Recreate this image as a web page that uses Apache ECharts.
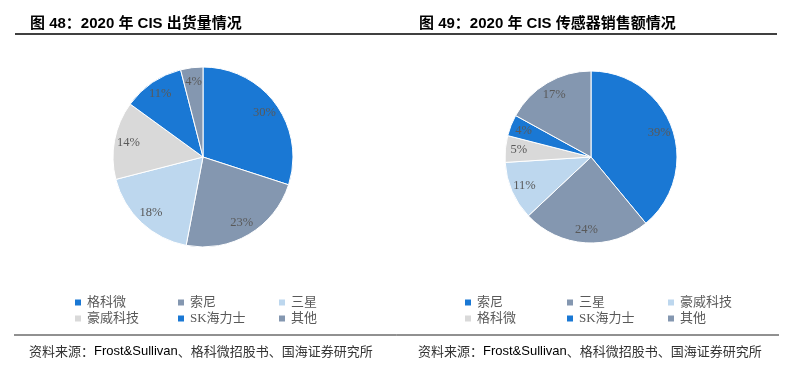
<!DOCTYPE html>
<html>
<head>
<meta charset="utf-8">
<script src="https://cdn.jsdelivr.net/npm/echarts@6/dist/echarts.min.js"></script>
<style>
  html, body { margin: 0; padding: 0; background: #fff; }
  #main { width: 786px; height: 377px; }
</style>
</head>
<body>
<div id="main"></div>
<script>
// 图48 出货量
var shipNames = ['格科微', '索尼', '三星', '豪威科技', 'SK海力士', '其他'];
var shipValues = [30, 23, 18, 14, 11, 4];
// 图49 销售额
var salesNames = ['索尼', '三星', '豪威科技', '格科微', 'SK海力士', '其他'];
var salesValues = [39, 24, 11, 5, 4, 17];

var sliceColors = ['#1a78d4', '#8497b0', '#bdd7ee', '#d9d9d9', '#1a78d4', '#8497b0'];
var sansFont = '"Liberation Sans", "Noto Sans CJK SC", sans-serif';
var serifFont = '"Liberation Serif", "DejaVu Serif", "Noto Sans CJK SC", serif';

function pieData(names, values) {
    var arr = [];
    for (var i = 0; i < names.length; i++) {
        arr.push({ name: names[i], value: values[i], itemStyle: { color: sliceColors[i] } });
    }
    return arr;
}

function pieSeries(names, values, center, r) {
    return [
        {
            type: 'pie',
            center: center,
            radius: [0, r],
            startAngle: 90,
            silent: true,
            label: { show: false },
            labelLine: { show: false },
            itemStyle: { borderColor: '#fff', borderWidth: 1 },
            emphasis: { disabled: true },
            data: pieData(names, values)
        },
        {
            // label ring only
            type: 'pie',
            center: center,
            radius: [Math.round(r * 0.62), r],
            startAngle: 90,
            silent: true,
            z: 3,
            itemStyle: { color: 'rgba(0,0,0,0)', borderWidth: 0 },
            label: {
                show: true,
                position: 'inside',
                formatter: '{c}%',
                color: '#595959',
                fontSize: 12.5,
                fontFamily: serifFont
            },
            labelLine: { show: false },
            emphasis: { disabled: true },
            data: names.map(function (n, i) { return { name: n, value: values[i] }; })
        }
    ];
}

// legend columns: two rows each
function legendColumns(names, xs) {
    var out = [];
    for (var c = 0; c < 3; c++) {
        out.push({
            orient: 'vertical',
            left: xs[c],
            top: 291,
            itemWidth: 8,
            itemHeight: 8,
            itemGap: 3,
            selectedMode: false,
            icon: 'rect',
            textStyle: { fontSize: 13, color: '#595959', fontFamily: serifFont, lineHeight: 13 },
            data: [
                { name: names[c], itemStyle: { color: sliceColors[c] } },
                { name: names[c + 3], itemStyle: { color: sliceColors[c + 3] } }
            ]
        });
    }
    return out;
}

var footRich = {
    cn: { fontFamily: '"Noto Sans CJK SC", sans-serif', fontSize: 13, fontWeight: 'normal', color: '#333' },
    en: { fontFamily: '"Liberation Sans", sans-serif', fontSize: 13, fontWeight: 'normal', color: '#000' }
};
var footText = '{cn|资料来源：}{en|Frost&Sullivan}{cn|、格科微招股书、国海证券研究所}';

var chart = echarts.init(document.getElementById('main'));
var option = {
    animation: false,
    title: [
        { text: '图 48：2020 年 CIS 出货量情况', left: 25, top: 11,
          textStyle: { fontSize: 15, fontWeight: 'bold', color: '#000', fontFamily: sansFont } },
        { text: '图 49：2020 年 CIS 传感器销售额情况', left: 414, top: 11,
          textStyle: { fontSize: 15, fontWeight: 'bold', color: '#000', fontFamily: sansFont } },
        { text: footText, left: 24, top: 340, textStyle: { fontWeight: 'normal', rich: footRich } },
        { text: footText, left: 413, top: 340, textStyle: { fontWeight: 'normal', rich: footRich } }
    ],
    legend: legendColumns(shipNames, [68, 171, 272]).concat(legendColumns(salesNames, [458, 560, 661])),
    graphic: [
        { type: 'line', shape: { x1: 15, y1: 34, x2: 777, y2: 34 }, style: { stroke: '#000', lineWidth: 1.5 } },
        { type: 'line', shape: { x1: 14, y1: 335, x2: 779, y2: 335 }, style: { stroke: '#222', lineWidth: 1 } }
    ],
    series: pieSeries(shipNames, shipValues, [203, 157], 90)
        .concat(pieSeries(salesNames, salesValues, [591, 157], 86))
};
chart.setOption(option);
</script>
</body>
</html>
